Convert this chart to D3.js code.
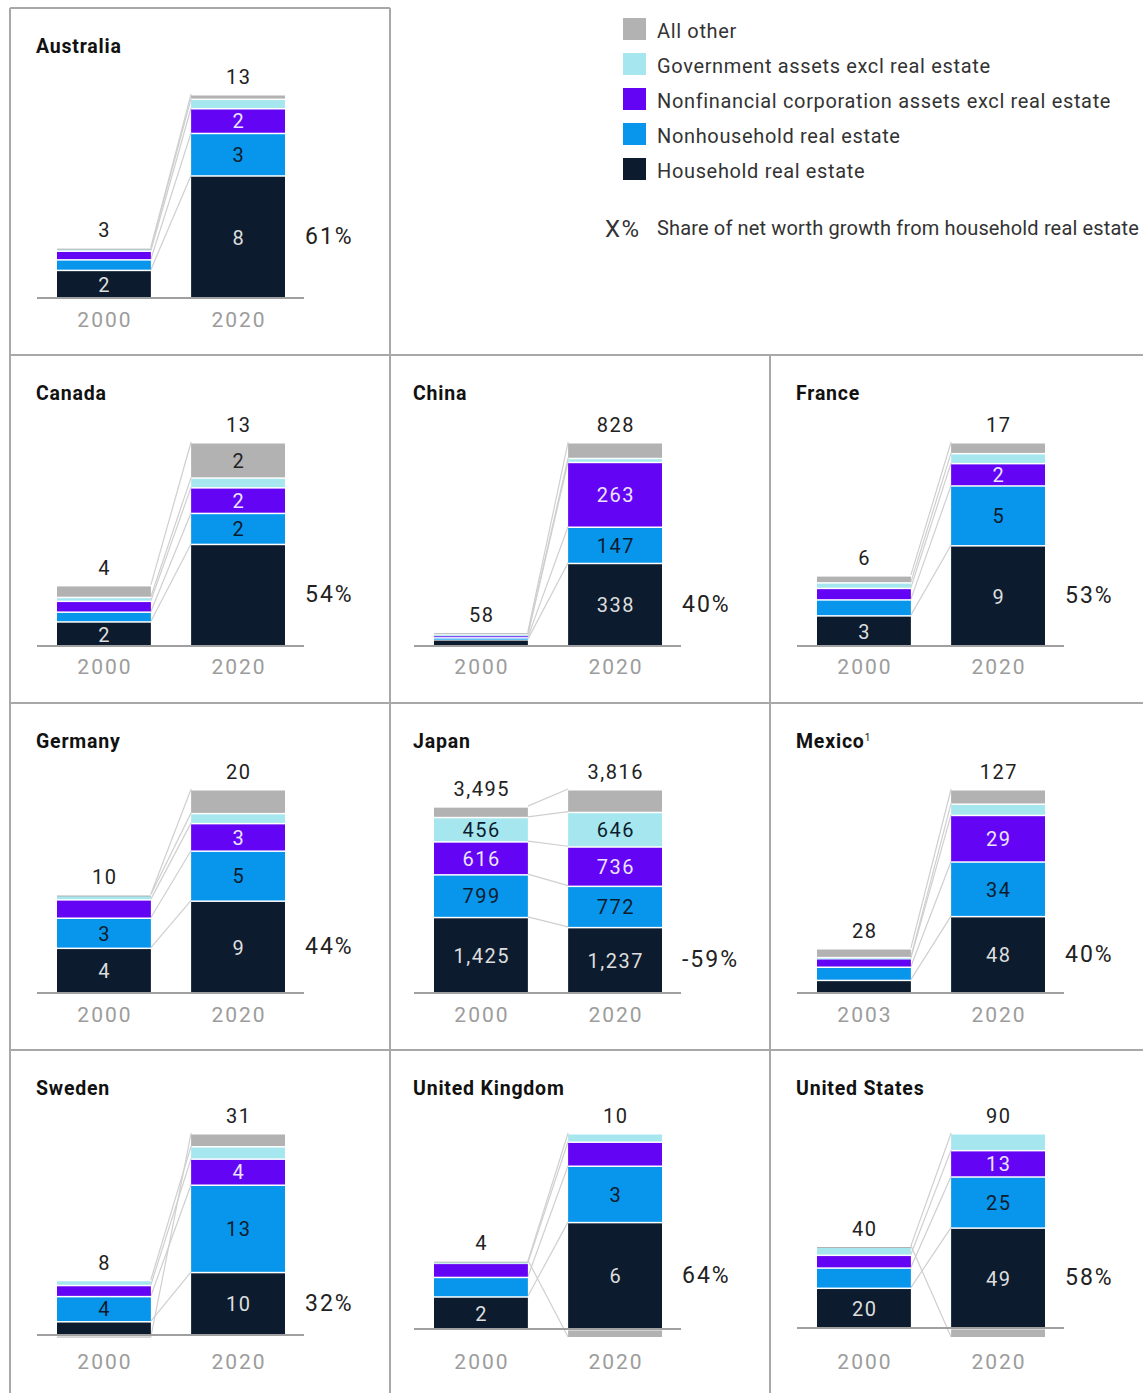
<!DOCTYPE html>
<html>
<head>
<meta charset="utf-8">
<script src="https://cdn.jsdelivr.net/npm/d3@7"></script>
<style>
  body { margin: 0; background: #fff; }
  text { font-family: Roboto, "Liberation Sans", sans-serif; }
</style>
</head>
<body>
<script>
// page size
var w = 1143;
var h = 1393;

// series, bottom to top of each stack
var keys = ["household", "nonhousehold", "nonfinancial", "government", "other"];
var legendNames = ["All other", "Government assets excl real estate",
  "Nonfinancial corporation assets excl real estate", "Nonhousehold real estate",
  "Household real estate"];
var colors = { household: "#0c1c2e", nonhousehold: "#0896ec", nonfinancial: "#6404f4",
  government: "#a6e7ef", other: "#b2b2b2" };
var labelColors = { household: "#dedede", nonhousehold: "#0c1c2e", nonfinancial: "#ece4ff",
  government: "#0c1c2e", other: "#222" };

var countries = ["Australia", "Canada", "China", "France", "Germany", "Japan",
  "Mexico", "Sweden", "United Kingdom", "United States"];
var startYears = ["2000", "2000", "2000", "2000", "2000", "2000", "2003", "2000", "2000", "2000"];
var endYear = "2020";

// values, one entry per country
var household2000    = [1.8, 1.6, 28, 2.63, 4.45, 1425, 8.3, 2.15, 1.74, 19.6];
var household2020    = [7.8, 6.6, 338, 8.6, 9.07, 1237, 48, 9.7, 5.7, 48.8];
var nonhousehold2000 = [0.67, 0.63, 8, 1.36, 2.95, 799, 8.2, 3.86, 1.04, 9.8];
var nonhousehold2020 = [2.7, 2.0, 147, 5.1, 4.9, 772, 34, 13.4, 3.0, 24.8];
var nonfinancial2000 = [0.55, 0.7, 10, 0.98, 1.8, 616, 5.4, 1.7, 0.75, 6.2];
var nonfinancial2020 = [1.57, 1.65, 263, 1.9, 2.7, 736, 29, 4.0, 1.28, 12.8];
var government2000   = [0.16, 0.25, 4, 0.47, 0.45, 456, 0.6, 0.77, 0.08, 4.2];
var government2020   = [0.6, 0.63, 16, 0.85, 0.98, 646, 7, 1.9, 0.45, 8.2];
var other2000        = [0.05, 0.76, 8, 0.6, 0.05, 199, 5.5, -0.3, 0.05, 0.2];
var other2020        = [0.29, 2.28, 64, 0.93, 2.34, 425, 9, 2.0, -0.43, -4.4];

var totals2000 = ["3", "4", "58", "6", "10", "3,495", "28", "8", "4", "40"];
var totals2020 = ["13", "13", "828", "17", "20", "3,816", "127", "31", "10", "90"];
var shares = ["61%", "54%", "40%", "53%", "44%", "-59%", "40%", "32%", "64%", "58%"];

// printed segment labels, in keys order ("" = not printed)
var labels2000 = [
  ["2", "", "", "", ""], ["2", "", "", "", ""], ["", "", "", "", ""],
  ["3", "", "", "", ""], ["4", "3", "", "", ""], ["1,425", "799", "616", "456", ""],
  ["", "", "", "", ""], ["", "4", "", "", ""], ["2", "", "", "", ""], ["20", "", "", "", ""]
];
var labels2020 = [
  ["8", "3", "2", "", ""], ["", "2", "2", "", "2"], ["338", "147", "263", "", ""],
  ["9", "5", "2", "", ""], ["9", "5", "3", "", ""], ["1,237", "772", "736", "646", ""],
  ["48", "34", "29", "", ""], ["10", "13", "4", "", ""], ["6", "3", "", "", ""], ["49", "25", "13", "", ""]
];

// panel grid: country index -> [column, row]
var cells = [[0, 0], [0, 1], [1, 1], [2, 1], [0, 2], [1, 2], [2, 2], [0, 3], [1, 3], [2, 3]];
var colX = [10, 387, 770];
var rowY = [8, 355, 703, 1050];
var rowBottom = [298, 646, 993, 1337];   // lowest point of the stacks in each row
var stackHeight = 204;

var svg = d3.select("body")
  .append("svg")
  .attr("width", w)
  .attr("height", h);

svg.append("rect").attr("width", w).attr("height", h).attr("fill", "#fff");

// panel borders
var borderColor = "#a8a8a8";
var borders = [
  [10, 8, 390, 8], [10, 8, 10, h], [390, 8, 390, h], [770, 355, 770, h],
  [10, 355, w, 355], [10, 703, w, 703], [10, 1050, w, 1050]
];
svg.selectAll("line.border")
  .data(borders)
  .enter()
  .append("line")
  .attr("class", "border")
  .attr("x1", function(d) { return d[0]; })
  .attr("y1", function(d) { return d[1]; })
  .attr("x2", function(d) { return d[2]; })
  .attr("y2", function(d) { return d[3]; })
  .attr("stroke", borderColor)
  .attr("stroke-width", 2);

// legend
var legend = svg.append("g");
legend.selectAll("rect")
  .data(legendNames)
  .enter()
  .append("rect")
  .attr("x", 623)
  .attr("y", function(d, i) { return 18 + i * 35; })
  .attr("width", 23)
  .attr("height", 22)
  .attr("fill", function(d, i) { return colors[keys[4 - i]]; });
legend.selectAll("text")
  .data(legendNames)
  .enter()
  .append("text")
  .attr("x", 657)
  .attr("y", function(d, i) { return 38 + i * 35; })
  .attr("font-size", "20px")
  .attr("letter-spacing", "0.65px")
  .attr("fill", "#333")
  .text(function(d) { return d; });
legend.append("text")
  .attr("x", 605).attr("y", 237)
  .attr("font-size", "24px").attr("letter-spacing", "1.5px").attr("fill", "#333")
  .text("X%");
legend.append("text")
  .attr("x", 657).attr("y", 235)
  .attr("font-size", "20px").attr("letter-spacing", "0.15px").attr("fill", "#333")
  .text("Share of net worth growth from household real estate");

var valuesBy = {
  household: [household2000, household2020],
  nonhousehold: [nonhousehold2000, nonhousehold2020],
  nonfinancial: [nonfinancial2000, nonfinancial2020],
  government: [government2000, government2020],
  other: [other2000, other2020]
};

var stack = d3.stack().keys(keys).offset(d3.stackOffsetDiverging);

// outer edge of a segment: top for positive values, bottom for negative ones
function edge(d) {
  return d[0] < 0 ? d[0] : d[1];
}

countries.forEach(function(name, c) {
  var px = colX[cells[c][0]];
  var py = rowY[cells[c][1]];
  var bottom = rowBottom[cells[c][1]];
  var years = [startYears[c], endYear];

  var rows = years.map(function(yr, j) {
    var row = { year: yr };
    keys.forEach(function(k) { row[k] = valuesBy[k][j][c]; });
    return row;
  });
  var series = stack(rows);

  var lo = d3.min(series, function(s) { return d3.min(s, function(d) { return d[0]; }); });
  var hi = d3.max(series, function(s) { return d3.max(s, function(d) { return d[1]; }); });

  var xScale = d3.scaleBand()
    .domain(years)
    .range([px + 47, px + 275])
    .paddingInner(0.3);
  var yScale = d3.scaleLinear()
    .domain([Math.min(0, lo), hi])
    .range([bottom, bottom - stackHeight]);
  var bw = xScale.bandwidth();

  var g = svg.append("g");

  // title
  var title = g.append("text")
    .attr("x", px + 26)
    .attr("y", py + 45)
    .attr("font-size", "19.5px")
    .attr("font-weight", 700)
    .attr("letter-spacing", "0.8px")
    .attr("fill", "#111")
    .text(name);
  if (name == "Mexico") {
    title.append("tspan").attr("dy", -7).attr("font-size", "10px").attr("font-weight", 400).text("1");
  }

  // connector lines between the two bars
  g.selectAll("line.link")
    .data(series)
    .enter()
    .append("line")
    .attr("x1", xScale(years[0]) + bw)
    .attr("x2", xScale(years[1]))
    .attr("y1", function(s) { return yScale(edge(s[0])); })
    .attr("y2", function(s) { return yScale(edge(s[1])); })
    .attr("stroke", "#cfcfcf")
    .attr("stroke-width", 1.2);

  // stacked bars
  var layer = g.selectAll("g.layer")
    .data(series)
    .enter()
    .append("g")
    .attr("fill", function(s) { return colors[s.key]; });
  layer.selectAll("rect")
    .data(function(s) { return s; })
    .enter()
    .append("rect")
    .attr("x", function(d) { return xScale(d.data.year); })
    .attr("width", bw)
    .attr("y", function(d) { return yScale(d[1]) + 1.5; })
    .attr("height", function(d) {
      return Math.max(1, yScale(d[0]) - yScale(d[1]) - 1.5);
    });

  // baseline
  g.append("line")
    .attr("x1", px + 27)
    .attr("x2", px + 294)
    .attr("y1", yScale(0))
    .attr("y2", yScale(0))
    .attr("stroke", "#a0a0a0")
    .attr("stroke-width", 2);

  // segment labels
  var segLabels = [labels2000[c], labels2020[c]];
  series.forEach(function(s, k) {
    s.forEach(function(d, j) {
      var t = segLabels[j][k];
      if (!t) return;
      g.append("text")
        .attr("x", xScale(d.data.year) + bw / 2 + 0.75)
        .attr("y", (yScale(d[0]) + yScale(d[1])) / 2 + 1)
        .attr("text-anchor", "middle")
        .attr("dominant-baseline", "central")
        .attr("font-size", "20px")
        .attr("letter-spacing", "1.5px")
        .attr("fill", labelColors[s.key])
        .text(t);
    });
  });

  // totals above the bars
  var tops = years.map(function(yr, j) {
    return d3.max(series, function(s) { return s[j][1]; });
  });
  g.selectAll("text.total")
    .data([totals2000[c], totals2020[c]])
    .enter()
    .append("text")
    .attr("class", "total")
    .attr("x", function(d, j) { return xScale(years[j]) + bw / 2 + 0.75; })
    .attr("y", function(d, j) { return yScale(tops[j]) - 10; })
    .attr("text-anchor", "middle")
    .attr("font-size", "20px")
    .attr("letter-spacing", "1.5px")
    .attr("fill", "#222")
    .text(function(d) { return d; });

  // year labels
  var axis = d3.axisBottom(xScale).tickSize(0).tickPadding(0);
  var ax = g.append("g")
    .attr("transform", "translate(1," + (py + 304) + ")")
    .call(axis);
  ax.select(".domain").remove();
  ax.selectAll("text")
    .attr("font-family", "Roboto, sans-serif")
    .attr("font-size", "21px")
    .attr("letter-spacing", "2px")
    .attr("fill", "#9c9c9c");

  // share of growth from household real estate
  var hh = series[0][1];
  g.append("text")
    .attr("x", xScale(years[1]) + bw + 20)
    .attr("y", (yScale(hh[0]) + yScale(hh[1])) / 2)
    .attr("dominant-baseline", "central")
    .attr("font-size", "23px")
    .attr("letter-spacing", "2px")
    .attr("fill", "#222")
    .text(shares[c]);
});
</script>
</body>
</html>
